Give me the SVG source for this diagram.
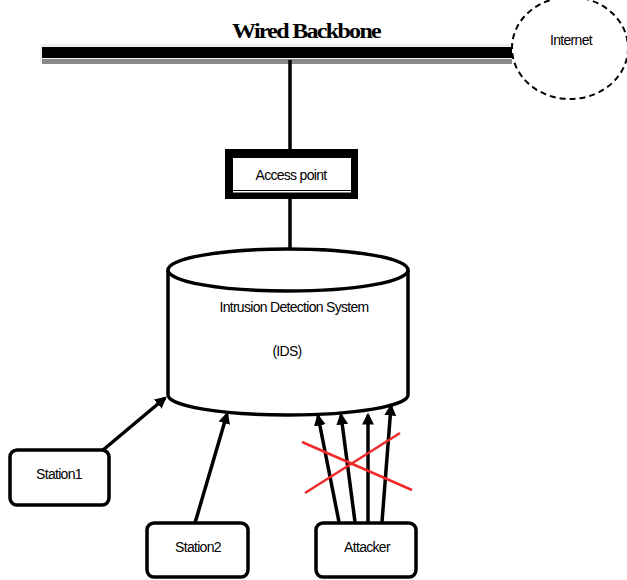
<svg xmlns="http://www.w3.org/2000/svg" width="627" height="580" viewBox="0 0 627 580">
<defs>
<style>
.t{font-family:"Liberation Sans",Arial,sans-serif;font-size:14px;fill:#000;text-anchor:middle;letter-spacing:-0.7px}
.box{fill:#fff;stroke:#000;stroke-width:3.5}
.con{stroke:#000;stroke-width:3.5;fill:none}
.arr{stroke:#000;stroke-width:3.5;fill:none;marker-end:url(#ah)}
.x{stroke:#ee2a2a;stroke-width:2.5}
</style>
<marker id="ah" viewBox="0 0 10 10" refX="8" refY="5" markerWidth="3.4" markerHeight="3.4" orient="auto" markerUnits="strokeWidth">
<path d="M0,0 L10,5 L0,10 z" fill="#000"/>
</marker>
</defs>
<rect width="627" height="580" fill="#fff"/>
<g id="backbone">
<rect x="40" y="44" width="472" height="19" fill="#efefef"/>
<rect x="42" y="59" width="470" height="5" fill="#8a8a8a"/>
<rect x="42" y="47" width="470" height="11" fill="#000"/>
<text x="306" y="38" font-family="Liberation Serif,serif" font-weight="bold" font-size="21" text-anchor="middle" letter-spacing="-1.5" textLength="148" lengthAdjust="spacingAndGlyphs">Wired Backbone</text>
</g>
<g id="internet">
<ellipse cx="570" cy="48" rx="58" ry="51" fill="#fff" stroke="#000" stroke-width="2" stroke-dasharray="6,4"/>
<text class="t" x="571" y="45">Internet</text>
</g>
<g id="connectors">
<line class="con" x1="290" y1="60" x2="290" y2="150"/>
<line class="con" x1="290" y1="199" x2="290" y2="249"/>
<line class="arr" x1="103" y1="450" x2="165" y2="398"/>
<line class="arr" x1="195" y1="523" x2="227" y2="414"/>
<line class="arr" x1="339" y1="522" x2="318" y2="416"/>
<line class="arr" x1="355" y1="522" x2="341" y2="415"/>
<line class="arr" x1="368" y1="522" x2="368" y2="415"/>
<line class="arr" x1="382" y1="522" x2="391" y2="406"/>
<line class="x" x1="302" y1="442" x2="412" y2="490"/>
<line class="x" x1="305" y1="493" x2="400" y2="433"/>
</g>
<g id="access-point">
<rect x="225" y="149" width="133" height="50" fill="#000"/>
<rect x="233" y="158" width="118" height="32" fill="#fff"/>
<rect x="233" y="191" width="118" height="1.5" fill="#fff"/>
<text class="t" x="291" y="180">Access point</text>
</g>
<g id="ids">
<path d="M168,270 L168,395 A120,20 0 0 0 408,395 L408,270" fill="#fff" stroke="#000" stroke-width="3.5"/>
<ellipse cx="288" cy="270" rx="120" ry="21" fill="#fff" stroke="#000" stroke-width="3.5"/>
<text class="t" x="294" y="312">Intrusion Detection System</text>
<text class="t" x="287" y="356">(IDS)</text>
</g>
<g id="station1">
<rect class="box" x="10" y="450" width="99" height="55" rx="7"/>
<text class="t" x="59" y="479">Station1</text>
</g>
<g id="station2">
<rect class="box" x="147" y="523" width="101" height="54" rx="7"/>
<text class="t" x="198" y="552">Station2</text>
</g>
<g id="attacker">
<rect class="box" x="316" y="523" width="100" height="54" rx="7"/>
<text class="t" x="367" y="552">Attacker</text>
</g>
</svg>
